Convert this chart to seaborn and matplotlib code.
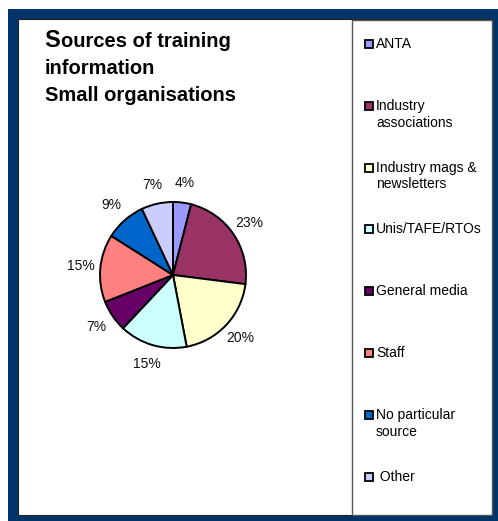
import matplotlib
matplotlib.use("Agg")
import matplotlib.pyplot as plt
import seaborn as sns
from matplotlib.patches import Rectangle

sns.set_theme(style="white")
plt.rcParams['font.family'] = ['Liberation Sans', 'DejaVu Sans']

categories = ["ANTA", "Industry\nassociations", "Industry mags &\nnewsletters",
              "Unis/TAFE/RTOs", "General media", "Staff", "No particular\nsource", " Other"]
values = [4, 23, 20, 15, 7, 15, 9, 7]
colors = ["#9999FF", "#993366", "#FFFFCC", "#CCFFFF", "#660066", "#FF8080", "#0066CC", "#CCCCFF"]

W, H = 498, 521
fig = plt.figure(figsize=(W / 100, H / 100), dpi=100)
fig.patch.set_facecolor("white")

def fx(px):
    return px / W

def fy(py):
    return 1 - py / H

# frame
fig.patches.append(Rectangle((fx(8), 0), 1 - fx(8), fy(9), transform=fig.transFigure,
                             facecolor="#00336A", edgecolor="none", zorder=0))
fig.patches.append(Rectangle((fx(18), fy(515)), fx(492) - fx(18), fy(19) - fy(515),
                             transform=fig.transFigure, facecolor="white",
                             edgecolor="#222222", linewidth=0.8, zorder=1))
# legend box
fig.patches.append(Rectangle((fx(352), fy(515)), fx(492) - fx(352), fy(20) - fy(515),
                             transform=fig.transFigure, facecolor="white",
                             edgecolor="#555555", linewidth=1.0, zorder=2))

# title
fig.text(fx(44), fy(47), "S", fontsize=17, fontweight="bold", color="black", va="baseline")
fig.text(fx(60.5), fy(47), "ources of training", fontsize=14.5, fontweight="bold", color="black", va="baseline")
fig.text(fx(45), fy(74), "information", fontsize=14.5, fontweight="bold", color="black", va="baseline")
fig.text(fx(45), fy(101), "Small organisations", fontsize=14.5, fontweight="bold", color="black", va="baseline")

# pie
cx, cy, R = 173, 275, 73
half = 1.4 * R
ax = fig.add_axes([fx(cx - half), fy(cy + half), 2 * half / W, 2 * half / H])
ax.set_zorder(3)
wedges, texts, autotexts = ax.pie(values, colors=colors, startangle=90, counterclock=False,
                                  autopct="%1.0f%%", pctdistance=1.27, radius=1,
                                  wedgeprops=dict(edgecolor="black", linewidth=1.4),
                                  textprops=dict(fontsize=10, color="#111111"))
ax.set_xlim(-1.4, 1.4)
ax.set_ylim(-1.4, 1.4)
ax.set_axis_off()

# legend entries
y0, step = 44, 61.8
for i, (lab, col) in enumerate(zip(categories, colors)):
    yy = y0 + i * step
    fig.patches.append(Rectangle((fx(364.5), fy(yy + 4)), 8 / W, 8 / H, transform=fig.transFigure,
                                 facecolor=col, edgecolor="black", linewidth=1.3, zorder=4))
    fig.text(fx(376), fy(yy - 7), lab, fontsize=10, color="black", va="top", ha="left",
             linespacing=1.25, zorder=5)

fig.savefig("out.png", dpi=100)
